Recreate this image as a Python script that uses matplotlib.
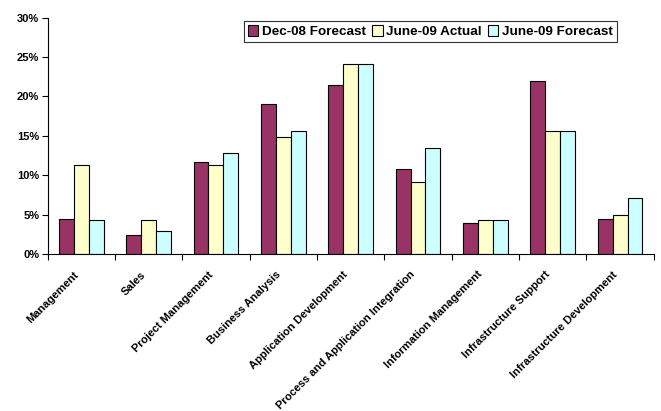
import matplotlib
matplotlib.use("Agg")
import matplotlib.pyplot as plt
import matplotlib.transforms as mtransforms
import numpy as np
from matplotlib.ticker import PercentFormatter, FixedLocator

categories = ["Management", "Sales", "Project Management", "Business Analysis",
              "Application Development", "Process and Application Integration",
              "Information Management", "Infrastructure Support",
              "Infrastructure Development"]
dec08_forecast = [4.4, 2.4, 11.7, 19.0, 21.4, 10.8, 3.9, 21.9, 4.4]
june09_actual = [11.3, 4.3, 11.3, 14.9, 24.1, 9.2, 4.3, 15.6, 5.0]
june09_forecast = [4.3, 2.9, 12.8, 15.6, 24.1, 13.5, 4.3, 15.6, 7.1]
series_names = ["Dec-08 Forecast", "June-09 Actual", "June-09 Forecast"]
colors = ["#993366", "#FFFFCC", "#CCFFFF"]
y_ticks = [0, 5, 10, 15, 20, 25, 30]

plt.rcParams['font.family'] = ['Liberation Sans', 'DejaVu Sans']
plt.rcParams['font.weight'] = 'bold'

fig = plt.figure(figsize=(6.61, 4.11), dpi=100)
ax = fig.add_axes([0.072, 0.382, 0.917, 0.575])

x = np.arange(len(categories))
w = 0.222
for i, (vals, name, c) in enumerate(zip([dec08_forecast, june09_actual, june09_forecast], series_names, colors)):
    ax.bar(x + (i - 1) * w, vals, width=w, color=c, edgecolor='black', linewidth=0.8, label=name)

ax.set_xlim(-0.5, len(categories) - 0.5)
ax.set_ylim(0, 30)
ax.set_yticks(y_ticks)
ax.yaxis.set_major_formatter(PercentFormatter(decimals=0))
ax.tick_params(axis='y', labelsize=8, length=4, width=0.8, direction='out', pad=2)
for lab in ax.get_yticklabels():
    lab.set_fontweight('bold')

ax.set_xticks(x)
ax.set_xticklabels(categories, rotation=45, ha='right', va='top', rotation_mode='anchor', fontsize=8, fontweight='bold')
ax.tick_params(axis='x', which='major', length=0, pad=11)
offset = mtransforms.ScaledTranslation(-8 / 100, 0, fig.dpi_scale_trans)
for lab in ax.get_xticklabels():
    lab.set_transform(lab.get_transform() + offset)
ax.xaxis.set_minor_locator(FixedLocator(np.arange(-0.5, len(categories), 1.0)))
ax.tick_params(axis='x', which='minor', length=4, width=0.8, direction='out')

for s in ['top', 'right']:
    ax.spines[s].set_visible(False)
for s in ['left', 'bottom']:
    ax.spines[s].set_linewidth(0.8)
    ax.spines[s].set_color('black')

leg = ax.legend(loc='upper right', bbox_to_anchor=(0.939, 0.985), ncol=3, fontsize=9.7,
                frameon=True, fancybox=False, edgecolor='black', handlelength=0.8, handleheight=0.8,
                handletextpad=0.25, columnspacing=0.45, borderpad=0.3, borderaxespad=0)
leg.get_frame().set_linewidth(0.8)
for t in leg.get_texts():
    t.set_fontweight('bold')

fig.savefig("out.png", dpi=100)
